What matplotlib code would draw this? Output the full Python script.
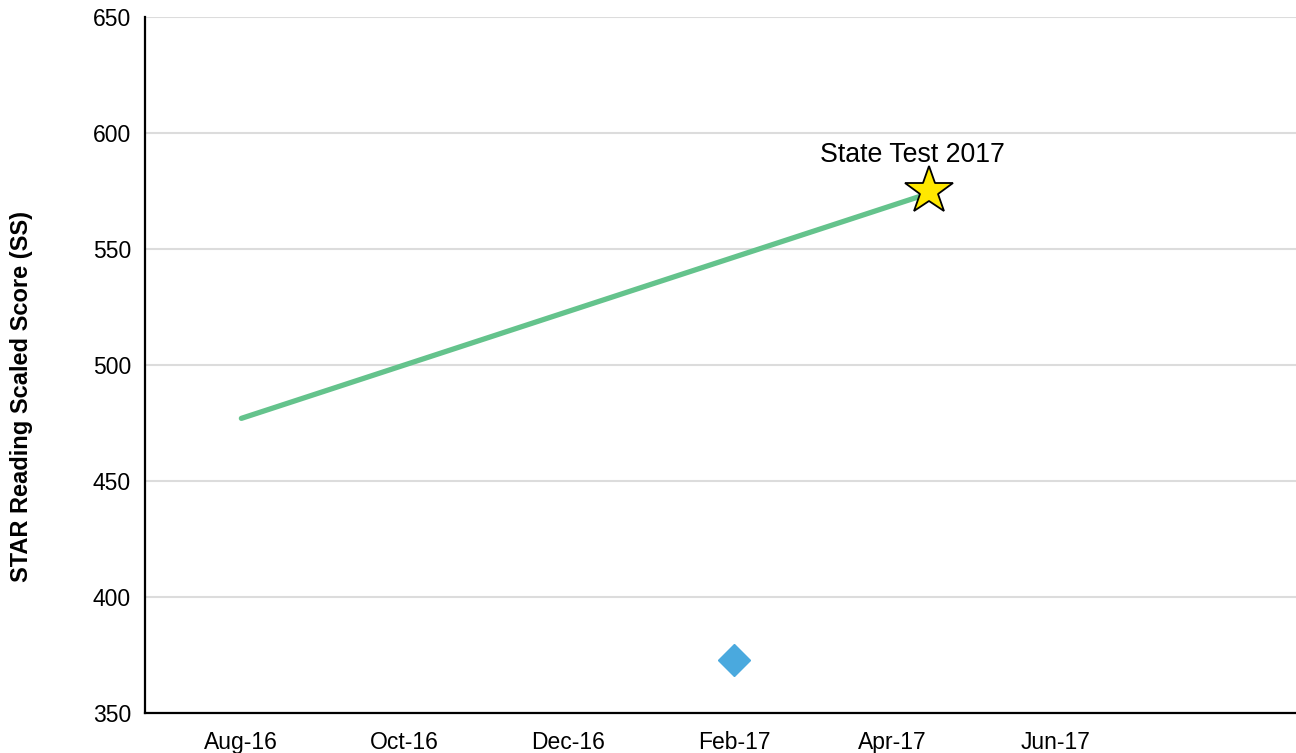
import matplotlib
matplotlib.use("Agg")
import matplotlib.pyplot as plt
import matplotlib.dates as mdates
import numpy as np
import pandas as pd

# ---- data ----
trend_dates = ["2016-08-01", "2017-04-15"]
trend_scores = [477, 574]
state_test_date = ["2017-04-15"]
state_test_score = [575]
state_test_label = "State Test 2017"
star_test_dates = ["2017-02-01"]
star_test_scores = [373]
x_tick_dates = ["2016-08-01", "2016-10-01", "2016-12-01", "2017-02-01", "2017-04-01", "2017-06-01"]
x_tick_labels = ["Aug-16", "Oct-16", "Dec-16", "Feb-17", "Apr-17", "Jun-17"]
y_ticks = [350, 400, 450, 500, 550, 600, 650]
y_label = "STAR Reading Scaled Score (SS)"

plt.rcParams['font.family'] = ['Liberation Sans', 'DejaVu Sans']

fig = plt.figure(figsize=(12.96, 7.53), dpi=100)
ax = fig.add_axes([145/1296, 40/753, 1 - 145/1296, 696/753])

ax.set_ylim(350, 650)
ax.set_xlim(pd.Timestamp("2016-06-26"), pd.Timestamp("2017-08-30"))
ax.set_yticks(y_ticks)
ax.set_xticks(pd.to_datetime(x_tick_dates))
ax.set_xticklabels(x_tick_labels)

ax.yaxis.grid(True, color="#dcdcdc", linewidth=1.5)
ax.set_axisbelow(True)
for s in ["top", "right"]:
    ax.spines[s].set_visible(False)
ax.spines["left"].set_linewidth(1.6)
ax.spines["bottom"].set_linewidth(1.6)
ax.tick_params(axis="both", length=0, labelsize=16.5)
ax.tick_params(axis="x", pad=13)
ax.tick_params(axis="y", pad=10)

ax.plot(pd.to_datetime(trend_dates), trend_scores, color="#64c38c", linewidth=3.8,
        solid_capstyle="round", zorder=3)
ax.plot(pd.to_datetime(state_test_date), state_test_score, linestyle="none", marker="*",
        markersize=36, markerfacecolor="#ffe800", markeredgecolor="black",
        markeredgewidth=1.3, zorder=4)
ax.annotate(state_test_label, (pd.Timestamp(state_test_date[0]), state_test_score[0]),
            xytext=(-12, 26), textcoords="offset points", ha="center", va="center",
            fontsize=19.3, color="black")
ax.plot(pd.to_datetime(star_test_dates), star_test_scores, linestyle="none", marker="D",
        markersize=16.5, markerfacecolor="#4aa9de", markeredgecolor="#4aa9de", zorder=4)

fig.text(22/1296, 1 - 396/753, y_label, rotation=90, ha="center", va="center",
         fontsize=17, fontweight="bold")

fig.savefig("out.png", dpi=100)
